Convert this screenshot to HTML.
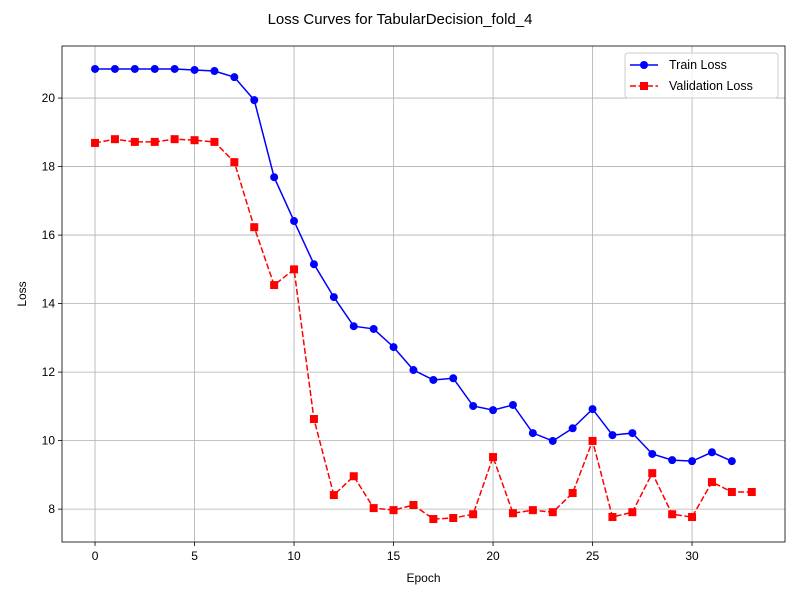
<!DOCTYPE html>
<html><head><meta charset="utf-8"><style>
body{margin:0;background:#fff;}
svg{display:block;font-family:"Liberation Sans","DejaVu Sans",sans-serif;}
</style></head><body>
<svg id="chart" width="800" height="600"></svg>
<script>
const epochsTrain=[0,1,2,3,4,5,6,7,8,9,10,11,12,13,14,15,16,17,18,19,20,21,22,23,24,25,26,27,28,29,30,31,32];
const trainLoss=[20.85,20.85,20.85,20.85,20.85,20.82,20.79,20.61,19.94,17.69,16.41,15.15,14.19,13.34,13.26,12.73,12.06,11.77,11.82,11.01,10.89,11.04,10.22,9.99,10.36,10.92,10.16,10.22,9.61,9.43,9.40,9.66,9.40];
const epochsVal=[0,1,2,3,4,5,6,7,8,9,10,11,12,13,14,15,16,17,18,19,20,21,22,23,24,25,26,27,28,29,30,31,32,33];
const valLoss=[18.69,18.80,18.72,18.72,18.80,18.77,18.72,18.13,16.23,14.54,15.0,10.63,8.41,8.96,8.03,7.97,8.12,7.71,7.74,7.85,9.52,7.88,7.97,7.91,8.47,9.99,7.77,7.91,9.05,7.85,7.77,8.79,8.50,8.50];
const xTicks=[0,5,10,15,20,25,30];
const yTicks=[8,10,12,14,16,18,20];

const L=62,R=785,T=46,B=542;
const xMin=-1.66,xMax=34.67,yMin=7.04,yMax=21.52;
const sx=v=>L+(v-xMin)/(xMax-xMin)*(R-L);
const sy=v=>B-(v-yMin)/(yMax-yMin)*(B-T);
const NS="http://www.w3.org/2000/svg";
const svg=document.getElementById('chart');
function mk(tag,attrs,parent){const e=document.createElementNS(NS,tag);for(const k in attrs)e.setAttribute(k,attrs[k]);(parent||svg).appendChild(e);return e;}

const title=mk('text',{x:400,y:24,'text-anchor':'middle','font-size':15,fill:'#000'});


title.textContent='Loss Curves for TabularDecision_fold_4';

xTicks.forEach(t=>{
  const g=mk('line',{x1:sx(t),x2:sx(t),y1:T,y2:B,stroke:'#b0b0b0','stroke-width':0.8});
  
  
  mk('line',{x1:sx(t),x2:sx(t),y1:B,y2:B+4,stroke:'#000','stroke-width':0.8});
  const tx=mk('text',{x:sx(t),y:B+18,'text-anchor':'middle','font-size':12});
  
  
  tx.textContent=t;
});
yTicks.forEach(t=>{
  const g=mk('line',{x1:L,x2:R,y1:sy(t),y2:sy(t),stroke:'#b0b0b0','stroke-width':0.8});
  
  
  mk('line',{x1:L-4,x2:L,y1:sy(t),y2:sy(t),stroke:'#000','stroke-width':0.8});
  const tx=mk('text',{x:L-7,y:sy(t)+4,'text-anchor':'end','font-size':12});
  
  
  tx.textContent=t;
});

const frame=mk('rect',{x:L,y:T,width:R-L,height:B-T,fill:'none',stroke:'#000','stroke-width':0.8});



const xl=mk('text',{x:(L+R)/2,y:582,'text-anchor':'middle','font-size':12});


xl.textContent='Epoch';
const yl=mk('text',{x:0,y:0,'text-anchor':'middle','font-size':12,transform:'translate(26,'+((T+B)/2)+') rotate(-90)'});


yl.textContent='Loss';

// train series
const tp=mk('polyline',{points:epochsTrain.map((e,i)=>sx(e)+','+sy(trainLoss[i])).join(' '),fill:'none',stroke:'#0000ff','stroke-width':1.5});


epochsTrain.forEach((e,i)=>{
  const c=mk('circle',{cx:sx(e),cy:sy(trainLoss[i]),r:4,fill:'#0000ff'});
  
  
});
// val series
const vp=mk('polyline',{points:epochsVal.map((e,i)=>sx(e)+','+sy(valLoss[i])).join(' '),fill:'none',stroke:'#ff0000','stroke-width':1.5,'stroke-dasharray':'6,2.5'});


epochsVal.forEach((e,i)=>{
  const r=mk('rect',{x:sx(e)-4,y:sy(valLoss[i])-4,width:8,height:8,fill:'#ff0000'});
  
  
});

// legend
const lg=mk('g',{});


mk('rect',{x:625,y:53,width:153,height:45,rx:3,fill:'#fff','fill-opacity':0.8,stroke:'#ccc'},lg);
mk('line',{x1:630,x2:658,y1:65,y2:65,stroke:'#0000ff','stroke-width':1.5},lg);
mk('circle',{cx:644,cy:65,r:4,fill:'#0000ff'},lg);
const t1=mk('text',{x:669,y:69,'font-size':12.5},lg);


t1.textContent='Train Loss';
mk('line',{x1:630,x2:658,y1:86,y2:86,stroke:'#ff0000','stroke-width':1.5,'stroke-dasharray':'6,2.5'},lg);
mk('rect',{x:640,y:82,width:8,height:8,fill:'#ff0000'},lg);
const t2=mk('text',{x:669,y:90,'font-size':12.5},lg);


t2.textContent='Validation Loss';
</script>
</body></html>
